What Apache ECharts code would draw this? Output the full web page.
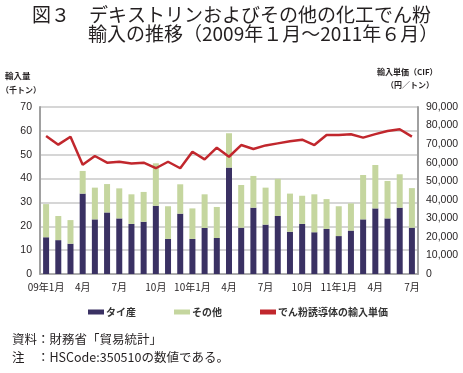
<!DOCTYPE html>
<html><head><meta charset="utf-8">
<script src="https://cdn.jsdelivr.net/npm/echarts@6/dist/echarts.min.js"></script>
<style>html,body{margin:0;padding:0;background:#fff}#c{width:463px;height:373px}</style>
</head><body><div id="c"></div>
<script>
const months = ["09年1月","2月","3月","4月","5月","6月","7月","8月","9月","10月","11月","12月",
  "10年1月","2月","3月","4月","5月","6月","7月","8月","9月","10月","11月","12月",
  "11年1月","2月","3月","4月","5月","6月","7月"];
const thai = [15.4,14.2,12.7,33.7,22.9,25.8,23.3,21.0,21.9,28.6,14.7,25.3,14.7,19.3,15.1,44.6,19.4,27.8,20.7,24.3,17.7,21.0,17.5,18.9,15.9,18.2,22.9,27.5,23.3,27.8,19.4];
const others = [13.9,10.1,9.9,9.5,13.3,11.9,12.6,12.4,12.5,17.8,13.7,12.3,12.8,14.1,13.0,14.4,17.9,13.3,15.5,15.6,16.0,11.8,15.9,12.5,12.5,11.4,18.6,18.2,15.7,14.0,16.6];
const price = [74400,69700,74000,58900,63600,60000,60500,59600,60000,57000,60500,57000,65900,61800,68100,63200,69500,67400,69300,70400,71500,72400,69500,74900,74900,75300,73500,75400,77100,78000,74000];
const seriesNames = ["タイ産","その他","でん粉誘導体の輸入単価"];

const F = "Noto Sans CJK JP";
const chart = echarts.init(document.getElementById('c'), null, {renderer:'canvas'});
chart.setOption({
  animation:false,
  textStyle:{fontFamily:F},
  title:[
    {text:"図３　デキストリンおよびその他の化工でん粉", left:32, top:5, padding:0, textStyle:{fontFamily:F, fontSize:19, fontWeight:'normal', color:'#231f20'}},
    {text:"輸入の推移（2009年１月～2011年６月）", left:88, top:24, padding:0, textStyle:{fontFamily:F, fontSize:19, fontWeight:'normal', color:'#231f20'}}
  ],
  grid:{left:40, right:45, top:107, bottom:99, containLabel:false},
  legend:{
    left:83, top:302, itemWidth:16, itemHeight:5, itemGap:38,
    textStyle:{fontFamily:F, fontSize:10, fontWeight:'bold', color:'#333', padding:[0,0,0,-3]},
    data:[{name:seriesNames[0], icon:'rect'},{name:seriesNames[1], icon:'rect'},{name:seriesNames[2], icon:'rect', itemStyle:{color:'#c1272d'}}]
  },
  xAxis:{
    type:'category', data:months, boundaryGap:true,
    axisLine:{lineStyle:{color:'#a0a0a0', width:1.5}},
    axisTick:{interval:2, length:4, lineStyle:{color:'#a0a0a0'}},
    axisLabel:{interval:2, fontSize:10, color:'#231f20', margin:8, fontFamily:F}
  },
  yAxis:[
    {type:'value', min:0, max:70, interval:10,
     axisLine:{show:true, lineStyle:{color:'#a0a0a0', width:2}},
     axisTick:{show:false},
     axisLabel:{fontSize:10.5, color:'#231f20', margin:8, fontFamily:"Liberation Sans"},
     splitLine:{lineStyle:{color:'#c8c8c8', width:1.5}}},
    {type:'value', min:0, max:90000, interval:10000,
     axisLine:{show:true, lineStyle:{color:'#a0a0a0', width:2}},
     axisTick:{show:false},
     axisLabel:{fontSize:10.5, color:'#231f20', margin:8, fontFamily:"Liberation Sans",
       formatter:v=>v.toLocaleString('en-US')},
     splitLine:{show:false}}
  ],
  graphic:[
    {type:'text', left:5, top:72, style:{text:'輸入量', font:'bold 8.5px "Noto Sans CJK JP"', fill:'#231f20'}},
    {type:'text', left:1, top:86, style:{text:'（千トン）', font:'bold 8px "Noto Sans CJK JP"', fill:'#231f20'}},
    {type:'text', left:377, top:68, style:{text:'輸入単価（CIF）', font:'bold 8px "Noto Sans CJK JP"', fill:'#231f20'}},
    {type:'text', left:386, top:81, style:{text:'（円／トン）', font:'bold 8px "Noto Sans CJK JP"', fill:'#231f20'}},
    {type:'text', left:12, top:333, style:{text:'資料：財務省「貿易統計」', font:'12.5px "Noto Sans CJK JP"', fill:'#231f20'}},
    {type:'text', left:12, top:351, style:{text:'注　：HSCode:350510の数値である。', font:'12.5px "Noto Sans CJK JP"', fill:'#231f20'}}
  ],
  series:[
    {name:seriesNames[0], type:'bar', stack:'a', data:thai, barWidth:6, itemStyle:{color:'#3a3163'}},
    {name:seriesNames[1], type:'bar', stack:'a', data:others, barWidth:6, itemStyle:{color:'#c5d69f'}},
    {name:seriesNames[2], type:'line', yAxisIndex:1, data:price, showSymbol:false, symbol:'none',
     lineStyle:{color:'#c1272d', width:2.5}, itemStyle:{color:'#c1272d'}}
  ]
});
</script></body></html>
